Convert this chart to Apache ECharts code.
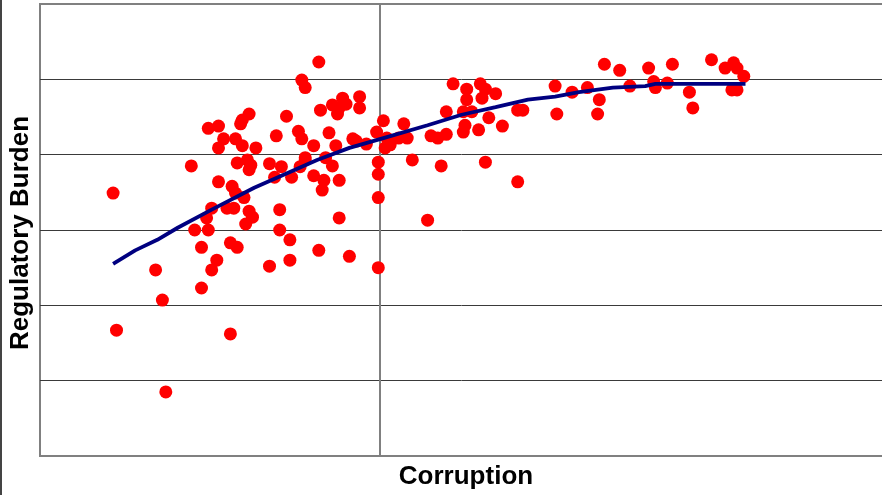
<!DOCTYPE html>
<html>
<head>
<meta charset="utf-8">
<script src="https://cdn.jsdelivr.net/npm/echarts@6/dist/echarts.min.js"></script>
<style>
html,body{margin:0;padding:0;background:#fff;}
#chart{width:882px;height:495px;}
</style>
</head>
<body>
<div id="chart"></div>
<script>
// Scatter: corruption (x) vs regulatory burden (y)
var corruption = [-1.57,-1.55,-1.26,-1.32,-1.28,-1.11,-1.05,-1.09,-1.01,-1.05,
  -1.01,-0.95,-0.82,-0.81,-0.77,-0.92,-0.85,-0.81,-0.95,-0.73,
  -0.84,-0.78,-0.77,-0.95,-0.87,-0.85,-0.80,-0.99,-0.90,-0.86,
  -0.77,-1.02,-0.79,-0.88,-0.84,-0.96,-0.99,-0.88,-0.75,-0.76,
  -0.65,-0.58,-0.62,-0.52,-0.44,-0.47,-0.39,-0.32,-0.28,-0.33,
  -0.34,-0.24,-0.01,-0.01,-0.01,-0.59,-0.59,-0.53,-0.36,-0.18,
  -0.65,-0.53,-0.24,-0.01,-0.36,-0.46,-0.44,-0.55,-0.35,-0.28,
  -0.25,-0.22,-0.20,-0.24,-0.12,-0.12,-0.48,-0.46,-0.61,-0.30,
  -0.39,-0.26,-0.16,-0.14,-0.08,0.02,-0.02,0.04,0.06,0.03,
  0.14,-0.44,0.43,0.51,0.51,0.59,0.62,0.60,0.68,0.39,
  0.49,0.54,0.50,0.49,0.58,0.64,0.72,0.81,0.84,0.11,
  0.16,0.30,0.34,0.39,0.19,0.36,0.62,0.81,0.28,1.03,
  1.04,1.13,1.22,1.29,1.28,1.32,1.41,1.47,1.58,1.61,
  1.62,1.69,1.72,1.82,1.84,1.95,2.03,2.08,2.10,2.14,
  2.07,2.10];
var burden = [0.49,-1.33,-2.15,-0.53,-0.93,0.85,-0.77,0.00,0.00,-0.23,
  1.35,1.38,1.41,1.46,1.54,1.21,1.21,1.12,1.09,1.09,
  0.89,0.93,0.80,0.64,0.58,0.49,0.43,0.29,0.29,0.29,
  0.25,0.16,0.08,-0.17,-0.23,-0.40,-0.53,-1.38,0.17,0.86,
  0.88,0.84,0.70,0.70,0.96,0.84,0.72,0.96,0.85,0.66,
  0.53,0.66,0.90,0.74,0.43,0.27,0.00,-0.13,-0.27,-0.35,
  -0.48,-0.40,0.16,-0.50,2.23,1.99,1.89,1.51,1.59,1.66,
  1.54,1.75,1.67,1.62,1.77,1.62,1.31,1.21,1.25,1.29,
  1.12,1.12,1.21,1.18,1.14,1.45,1.30,1.22,1.13,1.09,
  1.41,0.93,1.94,1.87,1.73,1.94,1.87,1.75,1.81,1.57,
  1.57,1.57,1.39,1.30,1.33,1.49,1.38,1.59,1.59,1.22,
  1.22,1.25,1.22,1.27,0.93,0.85,0.90,0.64,0.13,1.91,
  1.54,1.83,1.89,1.73,1.54,2.20,2.12,1.91,2.15,1.97,
  1.89,1.95,2.20,1.83,1.62,2.26,2.15,2.22,2.15,2.04,
  1.86,1.86];

// Fitted trend line
var trendX = [-1.57,-1.44,-1.31,-1.19,-0.99,-0.74,-0.57,-0.37,-0.18,0.02,0.28,0.48,0.68,0.87,1.03,1.17,1.37,1.56,1.62,2.15];
var trendY = [-0.45,-0.27,-0.13,0.03,0.27,0.56,0.73,0.93,1.09,1.22,1.39,1.53,1.63,1.73,1.77,1.83,1.89,1.91,1.94,1.94];

var xTitle = 'Corruption';
var yTitle = 'Regulatory Burden';

var scatterData = corruption.map(function (x, i) { return [x, burden[i]]; });
var trendData = trendX.map(function (x, i) { return [x, trendY[i]]; });

var chart = echarts.init(document.getElementById('chart'), null, {renderer: 'canvas'});
chart.setOption({
  animation: false,
  backgroundColor: '#ffffff',
  grid: {
    left: 40, top: 4, width: 850, height: 452,
    outerBoundsMode: 'none', containLabel: false,
    show: true, borderColor: '#808080', borderWidth: 2, backgroundColor: '#ffffff'
  },
  xAxis: {
    type: 'value', min: -2, max: 3, interval: 1,
    axisLine: {onZero: false, lineStyle: {color: '#808080', width: 2}},
    axisTick: {show: false},
    axisLabel: {show: false},
    splitLine: {show: false}
  },
  yAxis: {
    type: 'value', min: -3, max: 3, interval: 1,
    axisLine: {show: true, onZero: true, lineStyle: {color: '#808080', width: 2}},
    axisTick: {show: false},
    axisLabel: {show: false},
    splitLine: {show: true, showMinLine: false, showMaxLine: false, lineStyle: {color: '#3a3a3a', width: 1}}
  },
  graphic: [
    {type: 'rect', left: 0, top: 0, shape: {x: 0, y: 0, width: 2, height: 495}, style: {fill: '#444'}},
    {type: 'text', x: 466, y: 477, style: {text: xTitle, fill: '#000', font: 'bold 26px "Liberation Sans", Arial, sans-serif', textAlign: 'center', textVerticalAlign: 'middle'}},
    {type: 'text', x: 21, y: 233, rotation: Math.PI / 2, style: {text: yTitle, fill: '#000', font: 'bold 26px "Liberation Sans", Arial, sans-serif', textAlign: 'center', textVerticalAlign: 'middle'}}
  ],
  series: [
    {
      type: 'scatter', data: scatterData, symbol: 'circle', symbolSize: 13,
      itemStyle: {color: '#ff0000', opacity: 1}, z: 3
    },
    {
      type: 'line', data: trendData, showSymbol: false, symbol: 'none', smooth: false,
      lineStyle: {color: '#000080', width: 3.8}, z: 4
    }
  ]
});
</script>
</body>
</html>
